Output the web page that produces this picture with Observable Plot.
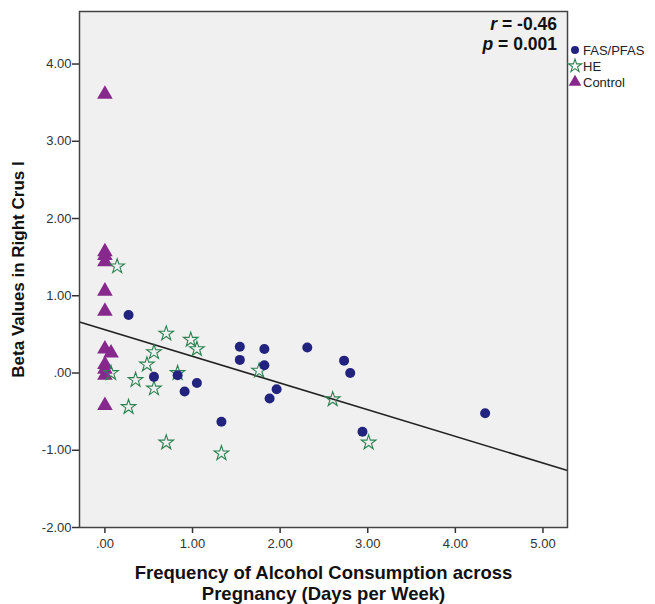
<!DOCTYPE html>
<html>
<head>
<meta charset="utf-8">
<script src="https://cdn.jsdelivr.net/npm/d3@7"></script>
<script src="https://cdn.jsdelivr.net/npm/@observablehq/plot@0.6"></script>
<style>
  html, body { margin: 0; padding: 0; background: #ffffff; }
  #chart { width: 655px; height: 604px; }
  svg { font-family: "Liberation Sans", Arial, sans-serif; }
</style>
</head>
<body>
<div id="chart"></div>
<script>
// ---- data ----
const groups = ["FAS/PFAS", "HE", "Control"];

const fasX = [0.27, 0.56, 0.83, 0.91, 1.05, 1.33, 1.54, 1.54, 1.82, 1.82, 1.96, 1.88, 2.31, 2.73, 2.80, 2.94, 4.34];
const fasY = [0.75, -0.05, -0.03, -0.24, -0.13, -0.63, 0.34, 0.17, 0.31, 0.10, -0.21, -0.33, 0.33, 0.16, 0.00, -0.76, -0.52];

const heX = [0.14, 0.70, 0.98, 1.05, 0.56, 0.48, 0.07, 0.35, 0.83, 0.56, 1.76, 0.27, 0.70, 1.33, 2.60, 3.01];
const heY = [1.38, 0.51, 0.43, 0.31, 0.27, 0.11, 0.00, -0.09, 0.00, -0.20, 0.03, -0.44, -0.90, -1.04, -0.34, -0.90];

const controlX = [0, 0, 0, 0, 0, 0, 0, 0.07, 0, 0, 0, 0];
const controlY = [3.61, 1.57, 1.52, 1.44, 1.06, 0.80, 0.31, 0.26, 0.11, 0.05, -0.03, -0.42];

const fitIntercept = 0.56;
const fitSlope = -0.345;
const statR = "-0.46";
const statP = "0.001";

const xTicks = [0, 1, 2, 3, 4, 5];
const yTicks = [-2, -1, 0, 1, 2, 3, 4];
const xDomain = [-0.29, 5.28];
const yDomain = [-2, 4.68];

const xLabel = "Frequency of Alcohol Consumption across\nPregnancy (Days per Week)";
const yLabel = "Beta Values in Right Crus I";

// ---- build table ----
const points = [
  ...fasX.map((x, i) => ({x, y: fasY[i], g: groups[0]})),
  ...heX.map((x, i) => ({x, y: heY[i], g: groups[1]})),
  ...controlX.map((x, i) => ({x, y: controlY[i], g: groups[2]}))
];
const fit = [{x1: xDomain[0], y1: fitIntercept + fitSlope * xDomain[0], x2: xDomain[1], y2: fitIntercept + fitSlope * xDomain[1]}];

const colors = {"FAS/PFAS": "#22227f", "HE": "#2d8150", "Control": "#87288c"};
const fmt = d => d === 0 ? ".00" : d.toFixed(2);

const chart = Plot.plot({
  width: 655,
  height: 604,
  marginLeft: 79,
  marginRight: 88,
  marginTop: 11,
  marginBottom: 77,
  style: {fontFamily: "Liberation Sans, Arial, sans-serif", background: "#ffffff"},
  x: {domain: xDomain, ticks: xTicks, tickFormat: fmt, label: null},
  y: {domain: yDomain, ticks: yTicks, tickFormat: fmt, label: null},
  marks: [
    Plot.frame({fill: "#f0f0f0", stroke: "none"}),
    Plot.axisX({ticks: xTicks, tickFormat: fmt, tickSize: 6, tickPadding: 5, fontSize: 13, color: "#333", stroke: "#333", strokeWidth: 1.5}),
    Plot.axisY({ticks: yTicks, tickFormat: fmt, tickSize: 7, tickPadding: 1, fontSize: 13, color: "#333", stroke: "#333", strokeWidth: 1.5}),
    Plot.link(fit, {x1: "x1", y1: "y1", x2: "x2", y2: "y2", stroke: "#222", strokeWidth: 1.6}),
    Plot.dot(points.filter(d => d.g === "Control"), {x: "x", y: "y", symbol: "triangle", r: 5.8, fill: colors.Control, stroke: "none"}),
    Plot.dot(points.filter(d => d.g === "HE"), {x: "x", y: "y", symbol: "star", r: 4.6, fill: "none", stroke: colors.HE, strokeWidth: 1.1}),
    Plot.dot(points.filter(d => d.g === "FAS/PFAS"), {x: "x", y: "y", symbol: "circle", r: 5, fill: colors["FAS/PFAS"], stroke: "none"}),
    Plot.frame({stroke: "#444", strokeWidth: 1.5}),
    // axis labels
    Plot.text([yLabel], {frameAnchor: "left", textAnchor: "middle", rotate: -90, dx: -61, fontSize: 17, fontWeight: "bold", fill: "#111"}),
    Plot.text([xLabel], {frameAnchor: "bottom", lineAnchor: "middle", dy: 55, fontSize: 18.5, fontWeight: "bold", fill: "#111", lineHeight: 1.15})
  ]
});

document.getElementById("chart").appendChild(chart);

// legend and statistics annotations added to the SVG
const svg = d3.select(chart);
const legendX = 575, legendY0 = 50, legendStep = 16;
const symFor = {"FAS/PFAS": d3.symbolCircle, "HE": d3.symbolStar, "Control": d3.symbolTriangle};
const symSize = {"FAS/PFAS": 50, "HE": 55, "Control": 70};
groups.forEach((g, i) => {
  const yy = legendY0 + i * legendStep;
  const p = svg.append("path")
    .attr("transform", `translate(${legendX},${yy})`)
    .attr("d", d3.symbol(symFor[g], symSize[g])());
  if (g === "HE") p.attr("fill", "none").attr("stroke", colors[g]).attr("stroke-width", 1.1);
  else p.attr("fill", colors[g]);
  svg.append("text").attr("x", legendX + 8).attr("y", yy).attr("dy", "0.35em")
    .attr("text-anchor", "start")
    .attr("font-size", 13).attr("fill", "#222").text(g);
});

const stat = svg.append("g").attr("font-size", 17.5).attr("font-weight", "bold").attr("fill", "#111");
const t1 = stat.append("text").attr("x", 557).attr("y", 30).attr("text-anchor", "end");
t1.append("tspan").attr("font-style", "italic").text("r");
t1.append("tspan").text(" = " + statR);
const t2 = stat.append("text").attr("x", 557).attr("y", 50).attr("text-anchor", "end");
t2.append("tspan").attr("font-style", "italic").text("p");
t2.append("tspan").text(" = " + statP);
</script>
</body>
</html>
